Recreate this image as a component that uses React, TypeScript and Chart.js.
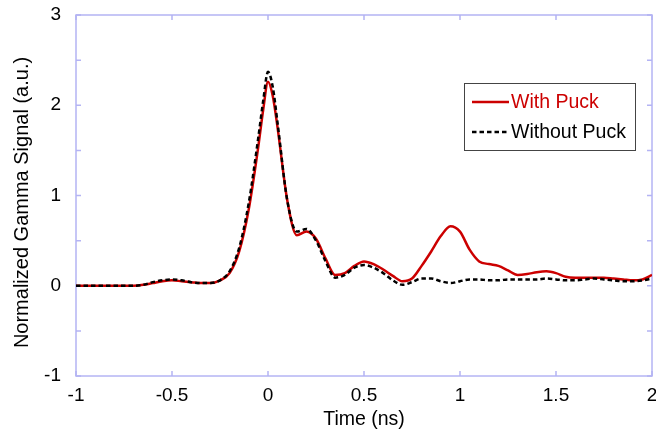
import React, { useEffect, useRef } from "react";
import { Chart, registerables } from "chart.js";
Chart.register(...registerables);

const timeNs = [
  -1.0, -0.95, -0.9, -0.85, -0.8, -0.75, -0.7, -0.65, -0.6, -0.55, -0.5, -0.45, -0.4, -0.35, -0.3, -0.25,
  -0.2, -0.15, -0.1, -0.05, -0.025, 0.0, 0.025, 0.05, 0.1, 0.15, 0.2, 0.25, 0.3, 0.35, 0.4, 0.45, 0.5,
  0.55, 0.6, 0.65, 0.7, 0.75, 0.8, 0.85, 0.9, 0.95, 1.0, 1.05, 1.1, 1.15, 1.2, 1.25, 1.3, 1.35, 1.4,
  1.45, 1.5, 1.55, 1.6, 1.65, 1.7, 1.75, 1.8, 1.85, 1.9, 1.95, 2.0,
];
const withPuck = [
  0.0, 0.0, 0.0, 0.0, 0.0, 0.0, 0.0, 0.01, 0.03, 0.05, 0.06, 0.05, 0.04, 0.03, 0.03, 0.06,
  0.14, 0.38, 0.85, 1.55, 1.95, 2.26, 2.1, 1.75, 0.95, 0.56, 0.6, 0.52, 0.3, 0.12, 0.14, 0.22, 0.27,
  0.24, 0.18, 0.11, 0.05, 0.08, 0.22, 0.38, 0.55, 0.66, 0.6, 0.4, 0.27, 0.24, 0.22, 0.17, 0.12, 0.13, 0.15,
  0.16, 0.14, 0.1, 0.09, 0.09, 0.09, 0.09, 0.08, 0.07, 0.06, 0.07, 0.12,
];
const withoutPuck = [
  0.0, 0.0, 0.0, 0.0, 0.0, 0.0, 0.0, 0.01, 0.04, 0.06, 0.07, 0.06, 0.04, 0.03, 0.03, 0.06,
  0.16, 0.42, 0.92, 1.65, 2.05, 2.37, 2.2, 1.8, 0.95, 0.6, 0.63, 0.5, 0.27, 0.09, 0.12, 0.2, 0.23,
  0.2, 0.14, 0.06, 0.01, 0.04, 0.08, 0.08, 0.05, 0.03, 0.05, 0.07, 0.07, 0.06, 0.06, 0.07, 0.07, 0.07, 0.07,
  0.08, 0.07, 0.06, 0.06, 0.07, 0.08, 0.07, 0.06, 0.05, 0.05, 0.06, 0.08,
];
const xTicks = [-1, -0.5, 0, 0.5, 1, 1.5, 2];
const yTicks = [-1, 0, 1, 2, 3];
const yMinorTicks = [-0.5, 0.5, 1.5, 2.5];
const seriesLabels = ["With Puck", "Without Puck"];
const xTitle = "Time (ns)";
const yTitle = "Normalized Gamma Signal (a.u.)";

const FONT = "'Liberation Sans', Arial, sans-serif";
const AXIS = "#b4b4f4";
const RED = "#cc0000";
const BLACK = "#000000";

const framePlugin = {
  id: "frame",
  beforeDatasetsDraw(chart: any) {
    const { ctx, chartArea: a, scales } = chart;
    const x = scales.x;
    const y = scales.y;
    ctx.save();
    ctx.strokeStyle = AXIS;
    ctx.lineWidth = 1.5;
    ctx.strokeRect(a.left, a.top, a.right - a.left, a.bottom - a.top);
    ctx.beginPath();
    const t = 5;
    xTicks.forEach((v) => {
      const px = x.getPixelForValue(v);
      ctx.moveTo(px, a.bottom);
      ctx.lineTo(px, a.bottom - t);
      ctx.moveTo(px, a.top);
      ctx.lineTo(px, a.top + t);
    });
    [...yTicks, ...yMinorTicks].forEach((v) => {
      const py = y.getPixelForValue(v);
      ctx.moveTo(a.left, py);
      ctx.lineTo(a.left + t, py);
      ctx.moveTo(a.right, py);
      ctx.lineTo(a.right - t, py);
    });
    ctx.stroke();
    // y-axis title
    ctx.translate(22, (a.top + a.bottom) / 2 + 7);
    ctx.rotate(-Math.PI / 2);
    ctx.font = `20px ${FONT}`;
    ctx.fillStyle = "#000";
    ctx.textAlign = "center";
    ctx.textBaseline = "middle";
    ctx.fillText(yTitle, 0, 0);
    ctx.restore();
  },
  afterDraw(chart: any) {
    const { ctx, chartArea: a } = chart;
    ctx.save();
    const bx = a.right - 188;
    const by = a.top + 68;
    const bw = 171;
    const bh = 67;
    ctx.fillStyle = "#ffffff";
    ctx.fillRect(bx, by, bw, bh);
    ctx.strokeStyle = "#444444";
    ctx.lineWidth = 1;
    ctx.strokeRect(bx + 0.5, by + 0.5, bw, bh);
    const colors = [RED, BLACK];
    const rows = [by + 19, by + 49];
    ctx.font = `19.5px ${FONT}`;
    ctx.textBaseline = "middle";
    ctx.textAlign = "left";
    seriesLabels.forEach((lab, i) => {
      ctx.beginPath();
      ctx.strokeStyle = colors[i];
      ctx.lineWidth = 2.5;
      ctx.setLineDash(i === 1 ? [4.5, 3] : []);
      ctx.moveTo(bx + 8, rows[i]);
      ctx.lineTo(bx + 45, rows[i]);
      ctx.stroke();
      ctx.setLineDash([]);
      ctx.fillStyle = colors[i];
      ctx.fillText(lab, bx + 47, rows[i] + 1);
    });
    ctx.restore();
  },
};

export default function App() {
  const ref = useRef<HTMLCanvasElement | null>(null);
  useEffect(() => {
    if (!ref.current) return;
    const chart = new Chart(ref.current, {
      type: "line",
      data: {
        datasets: [
          {
            label: seriesLabels[0],
            data: timeNs.map((t, i) => ({ x: t, y: withPuck[i] })),
            borderColor: RED,
            borderWidth: 2.5,
            pointRadius: 0,
            cubicInterpolationMode: "monotone",
            order: 2,
          },
          {
            label: seriesLabels[1],
            data: timeNs.map((t, i) => ({ x: t, y: withoutPuck[i] })),
            borderColor: BLACK,
            borderWidth: 2.5,
            borderDash: [4.5, 3],
            pointRadius: 0,
            cubicInterpolationMode: "monotone",
            order: 1,
          },
        ],
      },
      options: {
        animation: false,
        responsive: false,
        devicePixelRatio: 1,
        layout: { padding: { top: 15, right: 4, left: 0, bottom: 0 } },
        plugins: { legend: { display: false }, tooltip: { enabled: false } },
        scales: {
          x: {
            type: "linear",
            min: -1,
            max: 2,
            afterBuildTicks: (s: any) => {
              s.ticks = xTicks.map((v) => ({ value: v }));
            },
            afterFit: (s: any) => {
              s.height = 63;
              s.paddingLeft = 0;
              s.paddingRight = 0;
            },
            grid: { display: false, drawTicks: false },
            border: { display: false },
            ticks: {
              color: "#000",
              font: { family: FONT, size: 19 },
              padding: 8,
              maxRotation: 0,
              autoSkip: false,
              callback: (v: any) => String(v),
            },
            title: {
              display: true,
              text: xTitle,
              color: "#000",
              font: { family: FONT, size: 19.5 },
              padding: { top: 0, bottom: 8 },
            },
          },
          y: {
            type: "linear",
            min: -1,
            max: 3,
            afterBuildTicks: (s: any) => {
              s.ticks = yTicks.map((v) => ({ value: v }));
            },
            afterFit: (s: any) => {
              s.width = 76;
              s.paddingTop = 0;
              s.paddingBottom = 0;
            },
            grid: { display: false, drawTicks: false },
            border: { display: false },
            ticks: {
              color: "#000",
              font: { family: FONT, size: 19 },
              padding: 15,
              callback: (v: any) => String(v),
            },
            title: { display: false },
          },
        },
      },
      plugins: [framePlugin],
    } as any);
    return () => chart.destroy();
  }, []);
  return (
    <div style={{ position: "fixed", left: 0, top: 0, width: 656, height: 439, background: "#fff" }}>
      <canvas ref={ref} width={656} height={439} />
    </div>
  );
}
